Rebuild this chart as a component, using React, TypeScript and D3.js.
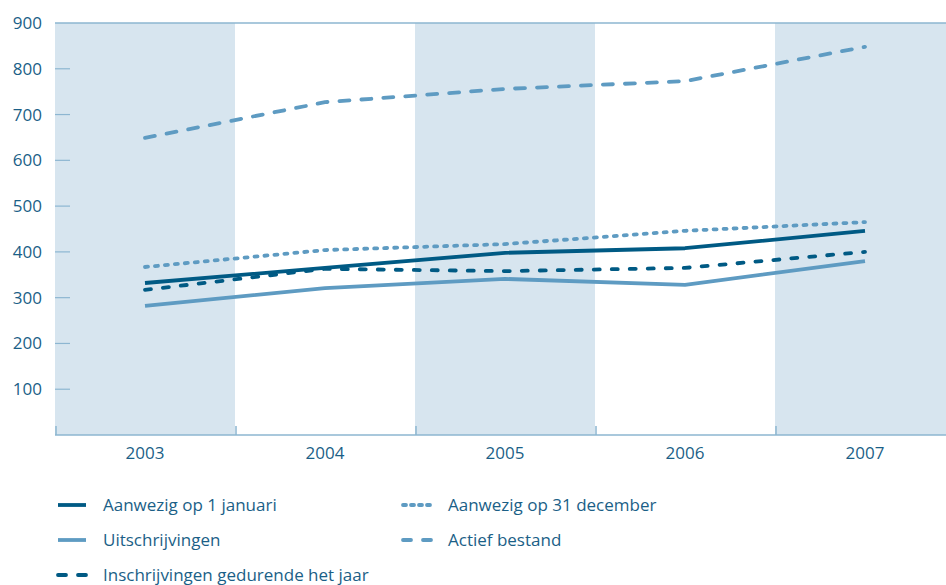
import React from 'react';
import * as d3 from 'd3';

const years = ['2003', '2004', '2005', '2006', '2007'];
const yTicks = [100, 200, 300, 400, 500, 600, 700, 800, 900];

const aanwezig1jan = [332, 365, 398, 408, 446];
const aanwezig31dec = [367, 404, 417, 446, 465];
const uitschrijvingen = [282, 321, 341, 328, 380];
const actiefBestand = [649, 727, 756, 773, 848];
const inschrijvingen = [317, 363, 358, 365, 400];

const dark = '#005a84';
const light = '#5e9bc2';
const band = '#d7e5ef';
const axisCol = '#8db6d1';
const textCol = '#1b5f87';
const font = "'Open Sans', sans-serif";

type Series = { name: string; values: number[]; color: string; dash: string };

// dash lengths allow for the round caps
const series: Series[] = [
  { name: 'Aanwezig op 1 januari', values: aanwezig1jan, color: dark, dash: '' },
  { name: 'Aanwezig op 31 december', values: aanwezig31dec, color: light, dash: '3 7' },
  { name: 'Uitschrijvingen', values: uitschrijvingen, color: light, dash: '' },
  { name: 'Actief bestand', values: actiefBestand, color: light, dash: '10 12' },
  { name: 'Inschrijvingen gedurende het jaar', values: inschrijvingen, color: dark, dash: '6 12' },
];

// legend order: left column, right column
const legendPos = [
  { s: 0, col: 0, row: 0 },
  { s: 1, col: 1, row: 0 },
  { s: 2, col: 0, row: 1 },
  { s: 3, col: 1, row: 1 },
  { s: 4, col: 0, row: 2 },
];

const App: React.FC = () => {
  const left = 55;
  const right = 955;
  const top = 23;
  const bottom = 435;

  const x = d3.scaleBand().domain(years).range([left, right]).padding(0);
  const y = d3.scaleLinear().domain([0, 900]).range([bottom, top]);
  const cx = (yr: string) => (x(yr) as number) + x.bandwidth() / 2;

  const line = (vals: number[]) =>
    d3.line<number>()
      .x((_, i) => cx(years[i]))
      .y(d => y(d))(vals) as string;

  return (
    <svg width={946} height={585} style={{ position: 'absolute', left: 0, top: 0 }}>
      <rect width={946} height={585} fill="#fff" />
      {years.map((yr, i) =>
        i % 2 === 0 ? (
          <rect key={yr} x={x(yr)} y={top} width={x.bandwidth()} height={bottom - top} fill={band} />
        ) : null
      )}
      <line x1={left} x2={946} y1={top} y2={top} stroke={axisCol} strokeWidth={1.5} />
      <line x1={left} x2={946} y1={bottom} y2={bottom} stroke={axisCol} strokeWidth={1.5} />
      {years.map(yr => (
        <line key={'t' + yr} x1={(x(yr) as number) + 1} x2={(x(yr) as number) + 1} y1={bottom - 9} y2={bottom}
          stroke={axisCol} strokeWidth={1.5} />
      ))}
      {yTicks.map(t => (
        <g key={t}>
          {t < 900 && <line x1={left} x2={left + 15} y1={y(t)} y2={y(t)} stroke={axisCol} strokeWidth={1.2} />}
          <text x={42} y={y(t) + 6} textAnchor="end" fontFamily={font} fontSize={17} fill={textCol}>{t}</text>
        </g>
      ))}
      {years.map(yr => (
        <text key={'l' + yr} x={cx(yr)} y={459} textAnchor="middle" fontFamily={font} fontSize={17} fill={textCol}>{yr}</text>
      ))}
      {series.map(s => (
        <path key={s.name} d={line(s.values)} fill="none" stroke={s.color} strokeWidth={3.8}
          strokeDasharray={s.dash || undefined} strokeLinecap={s.dash ? 'round' : 'butt'} strokeLinejoin="round" />
      ))}
      {legendPos.map(({ s, col, row }) => {
        const ser = series[s];
        const lx = col === 0 ? 55 : 400;
        const ly = 505 + row * 35;
        const dash = ser.dash ? (s === 1 ? '3 5' : '8 12') : undefined;
        return (
          <g key={'lg' + s}>
            <line x1={lx + 3} x2={lx + 31} y1={ly} y2={ly} stroke={ser.color} strokeWidth={3.8}
              strokeDasharray={dash} strokeLinecap={ser.dash ? 'round' : 'butt'} />
            <text x={lx + 48} y={ly + 5.5} fontFamily={font} fontSize={17} fill={textCol}>{ser.name}</text>
          </g>
        );
      })}
    </svg>
  );
};

export default App;
